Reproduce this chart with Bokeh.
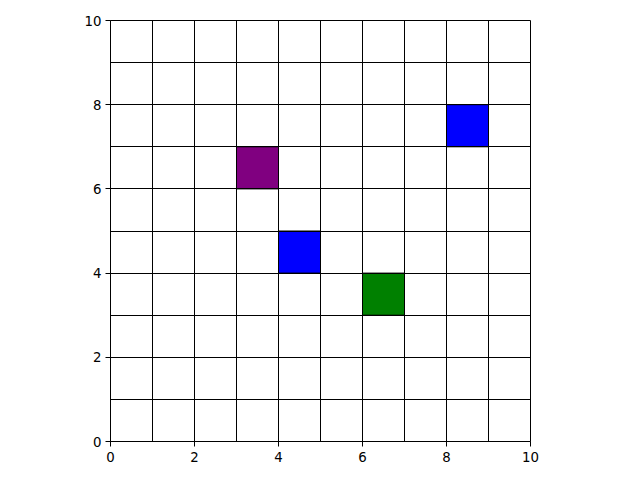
from bokeh.plotting import figure
from bokeh.models import Range1d, FixedTicker
from bokeh.embed import file_html
from bokeh.resources import INLINE

# Data: colored cells (lower-left corner) on a 10x10 grid
cell_x = [3, 4, 8, 6]
cell_y = [6, 4, 7, 3]
cell_colors = ["#800080", "#0000ff", "#0000ff", "#008000"]
grid_lines = list(range(0, 11))
tick_values = [0, 2, 4, 6, 8, 10]

p = figure(width=624, height=472, output_backend="svg", toolbar_location=None,
           x_range=Range1d(0, 10), y_range=Range1d(0, 10),
           min_border_left=110, min_border_right=94,
           min_border_top=20, min_border_bottom=31)

p.quad(left=cell_x, right=[v + 1 for v in cell_x],
       bottom=cell_y, top=[v + 1 for v in cell_y],
       fill_color=cell_colors, line_color="black", line_width=1)

for g in (p.xgrid, p.ygrid):
    g.ticker = FixedTicker(ticks=grid_lines)
    g.grid_line_color = "black"
    g.grid_line_alpha = 1.0
    g.grid_line_width = 1
    g.level = "overlay"

for ax in (p.xaxis, p.yaxis):
    ax.ticker = FixedTicker(ticks=tick_values)
    ax.minor_tick_line_color = None
    ax.major_tick_out = 5
    ax.major_tick_in = 0
    ax.axis_line_color = "black"
    ax.major_tick_line_color = "black"
    ax.major_label_text_font = "DejaVu Sans"
    ax.major_label_text_font_size = "10pt"
    ax.major_label_text_color = "black"
p.xaxis.major_label_standoff = 5
p.yaxis.major_label_standoff = 4

p.outline_line_color = "black"
p.outline_line_alpha = 1.0
p.background_fill_color = "white"
p.border_fill_color = "white"

open("out.html", "w").write(file_html(p, INLINE))
